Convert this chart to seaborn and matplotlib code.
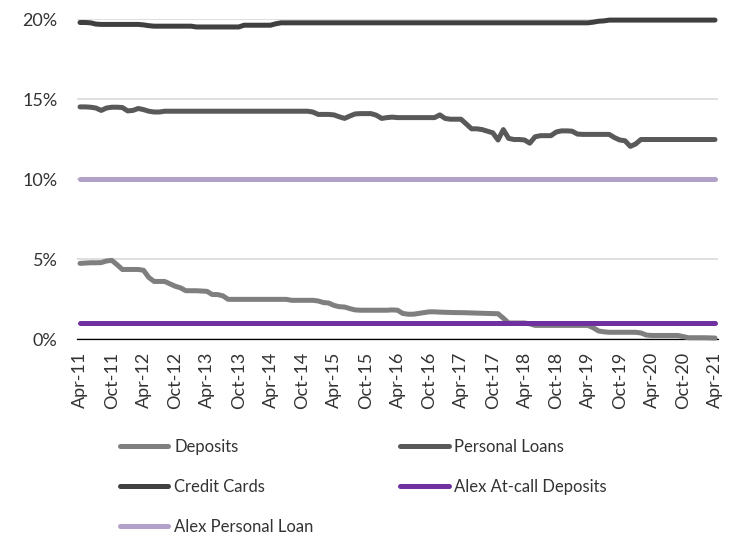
import matplotlib
matplotlib.use("Agg")
import matplotlib.pyplot as plt
import seaborn as sns
import pandas as pd
from matplotlib.ticker import FuncFormatter

# ---------------- data (monthly, Apr-11 .. Apr-21) ----------------
deposits = [
    4.73, 4.75, 4.77, 4.77, 4.78, 4.88, 4.92, 4.65, 4.35, 4.35, 4.35, 4.35,
    4.30, 3.85, 3.60, 3.60, 3.60, 3.45, 3.30, 3.20, 3.02, 3.02, 3.02, 3.00,
    2.98, 2.78, 2.78, 2.70, 2.48, 2.48, 2.48, 2.48, 2.48, 2.48, 2.48, 2.48,
    2.48, 2.48, 2.48, 2.48, 2.42, 2.42, 2.42, 2.42, 2.42, 2.38, 2.28, 2.25,
    2.10, 2.02, 2.00, 1.90, 1.82, 1.80, 1.80, 1.80, 1.80, 1.80, 1.80, 1.82,
    1.80, 1.60, 1.55, 1.55, 1.60, 1.65, 1.70, 1.70, 1.68, 1.67, 1.66, 1.65,
    1.65, 1.64, 1.63, 1.62, 1.61, 1.60, 1.59, 1.58, 1.30, 1.00, 1.00, 1.00,
    1.00, 0.95, 0.85, 0.85, 0.85, 0.85, 0.85, 0.85, 0.85, 0.85, 0.85, 0.85,
    0.85, 0.70, 0.50, 0.45, 0.42, 0.42, 0.42, 0.42, 0.42, 0.42, 0.38, 0.25,
    0.22, 0.22, 0.22, 0.22, 0.22, 0.22, 0.15, 0.08, 0.08, 0.08, 0.08, 0.07,
    0.06,
]
personal_loans = [
    14.52, 14.52, 14.50, 14.45, 14.30, 14.45, 14.50, 14.50, 14.48, 14.27, 14.30, 14.42,
    14.35, 14.25, 14.20, 14.20, 14.25, 14.25, 14.25, 14.25, 14.25, 14.25, 14.25, 14.25,
    14.25, 14.25, 14.25, 14.25, 14.25, 14.25, 14.25, 14.25, 14.25, 14.25, 14.25, 14.25,
    14.25, 14.25, 14.25, 14.25, 14.25, 14.25, 14.25, 14.25, 14.20, 14.05, 14.05, 14.05,
    14.02, 13.90, 13.80, 13.95, 14.08, 14.10, 14.10, 14.10, 14.00, 13.80, 13.85, 13.88,
    13.85, 13.85, 13.85, 13.85, 13.85, 13.85, 13.85, 13.85, 14.02, 13.80, 13.75, 13.75,
    13.75, 13.45, 13.15, 13.15, 13.10, 13.00, 12.90, 12.45, 13.10, 12.55, 12.48, 12.48,
    12.45, 12.25, 12.65, 12.72, 12.72, 12.72, 12.95, 13.02, 13.02, 13.00, 12.82, 12.80,
    12.80, 12.80, 12.80, 12.80, 12.80, 12.60, 12.45, 12.40, 12.05, 12.20, 12.48, 12.48,
    12.48, 12.48, 12.48, 12.48, 12.48, 12.48, 12.48, 12.48, 12.48, 12.48, 12.48, 12.48,
    12.48,
]
credit_cards = [
    19.80, 19.80, 19.78, 19.70, 19.68, 19.68, 19.68, 19.68, 19.68, 19.68, 19.68, 19.68,
    19.65, 19.60, 19.57, 19.57, 19.57, 19.57, 19.57, 19.57, 19.57, 19.57, 19.52, 19.52,
    19.52, 19.52, 19.52, 19.52, 19.52, 19.52, 19.52, 19.63, 19.63, 19.63, 19.63, 19.63,
    19.63, 19.72, 19.78, 19.78, 19.78, 19.78, 19.78, 19.78, 19.78, 19.78, 19.78, 19.78,
    19.78, 19.78, 19.78, 19.78, 19.78, 19.78, 19.78, 19.78, 19.78, 19.78, 19.78, 19.78,
    19.78, 19.78, 19.78, 19.78, 19.78, 19.78, 19.78, 19.78, 19.78, 19.78, 19.78, 19.78,
    19.78, 19.78, 19.78, 19.78, 19.78, 19.78, 19.78, 19.78, 19.78, 19.78, 19.78, 19.78,
    19.78, 19.78, 19.78, 19.78, 19.78, 19.78, 19.78, 19.78, 19.78, 19.78, 19.78, 19.78,
    19.78, 19.82, 19.88, 19.90, 19.95, 19.95, 19.95, 19.95, 19.95, 19.95, 19.95, 19.95,
    19.95, 19.95, 19.95, 19.95, 19.95, 19.95, 19.95, 19.95, 19.95, 19.95, 19.95, 19.95,
    19.95,
]
alex_at_call = [
    1.0, 1.0, 1.0, 1.0, 1.0, 1.0, 1.0, 1.0, 1.0, 1.0, 1.0, 1.0,
    1.0, 1.0, 1.0, 1.0, 1.0, 1.0, 1.0, 1.0, 1.0, 1.0, 1.0, 1.0,
    1.0, 1.0, 1.0, 1.0, 1.0, 1.0, 1.0, 1.0, 1.0, 1.0, 1.0, 1.0,
    1.0, 1.0, 1.0, 1.0, 1.0, 1.0, 1.0, 1.0, 1.0, 1.0, 1.0, 1.0,
    1.0, 1.0, 1.0, 1.0, 1.0, 1.0, 1.0, 1.0, 1.0, 1.0, 1.0, 1.0,
    1.0, 1.0, 1.0, 1.0, 1.0, 1.0, 1.0, 1.0, 1.0, 1.0, 1.0, 1.0,
    1.0, 1.0, 1.0, 1.0, 1.0, 1.0, 1.0, 1.0, 1.0, 1.0, 1.0, 1.0,
    1.0, 1.0, 1.0, 1.0, 1.0, 1.0, 1.0, 1.0, 1.0, 1.0, 1.0, 1.0,
    1.0, 1.0, 1.0, 1.0, 1.0, 1.0, 1.0, 1.0, 1.0, 1.0, 1.0, 1.0,
    1.0, 1.0, 1.0, 1.0, 1.0, 1.0, 1.0, 1.0, 1.0, 1.0, 1.0, 1.0,
    1.0,
]
alex_personal_loan = [
    10.0, 10.0, 10.0, 10.0, 10.0, 10.0, 10.0, 10.0, 10.0, 10.0, 10.0, 10.0,
    10.0, 10.0, 10.0, 10.0, 10.0, 10.0, 10.0, 10.0, 10.0, 10.0, 10.0, 10.0,
    10.0, 10.0, 10.0, 10.0, 10.0, 10.0, 10.0, 10.0, 10.0, 10.0, 10.0, 10.0,
    10.0, 10.0, 10.0, 10.0, 10.0, 10.0, 10.0, 10.0, 10.0, 10.0, 10.0, 10.0,
    10.0, 10.0, 10.0, 10.0, 10.0, 10.0, 10.0, 10.0, 10.0, 10.0, 10.0, 10.0,
    10.0, 10.0, 10.0, 10.0, 10.0, 10.0, 10.0, 10.0, 10.0, 10.0, 10.0, 10.0,
    10.0, 10.0, 10.0, 10.0, 10.0, 10.0, 10.0, 10.0, 10.0, 10.0, 10.0, 10.0,
    10.0, 10.0, 10.0, 10.0, 10.0, 10.0, 10.0, 10.0, 10.0, 10.0, 10.0, 10.0,
    10.0, 10.0, 10.0, 10.0, 10.0, 10.0, 10.0, 10.0, 10.0, 10.0, 10.0, 10.0,
    10.0, 10.0, 10.0, 10.0, 10.0, 10.0, 10.0, 10.0, 10.0, 10.0, 10.0, 10.0,
    10.0,
]
tick_labels = ["Apr-11", "Oct-11", "Apr-12", "Oct-12", "Apr-13", "Oct-13", "Apr-14",
               "Oct-14", "Apr-15", "Oct-15", "Apr-16", "Oct-16", "Apr-17", "Oct-17",
               "Apr-18", "Oct-18", "Apr-19", "Oct-19", "Apr-20", "Oct-20", "Apr-21"]
series_names = ["Deposits", "Personal Loans", "Credit Cards",
                "Alex At-call Deposits", "Alex Personal Loan"]
series_values = [deposits, personal_loans, credit_cards, alex_at_call, alex_personal_loan]
colors = ["#7F7F7F", "#595959", "#404040", "#7030A0", "#B1A0C7"]

# ---------------- build long table ----------------
rows = []
for name, vals in zip(series_names, series_values):
    for i, v in enumerate(vals):
        rows.append({"month": i, "rate": v, "series": name})
df = pd.DataFrame(rows)

sns.set_theme(style="white")
plt.rcParams["font.family"] = ["Lato", "DejaVu Sans"]
text_color = "#333333"

fig = plt.figure(figsize=(7.30, 5.37), dpi=100)
W, H = 730, 537
ax = fig.add_axes([77 / W, (H - 339) / H, (718 - 77) / W, (339 - 19.3) / H])

sns.lineplot(data=df, x="month", y="rate", hue="series", hue_order=series_names,
             palette=dict(zip(series_names, colors)), linewidth=3.6, ax=ax,
             legend=False, estimator=None)
for ln in ax.get_lines():
    ln.set_solid_capstyle("round")
    ln.set_solid_joinstyle("round")
    ln.set_clip_on(False)

ax.set_xlim(-0.57, 120.57)
ax.set_ylim(0, 20)
ax.set_yticks([0, 5, 10, 15, 20])
ax.yaxis.set_major_formatter(FuncFormatter(lambda v, p: f"{v:.0f}%"))
ax.set_xticks(list(range(0, 121, 6)))
ax.set_xticklabels(tick_labels, rotation=90, ha="center", va="top")
ax.set_xlabel("")
ax.set_ylabel("")
ax.yaxis.grid(True, color="#D9D9D9", linewidth=1.2)
ax.set_axisbelow(True)
for s in ["top", "right", "left"]:
    ax.spines[s].set_visible(False)
ax.spines["bottom"].set_color("#000000")
ax.spines["bottom"].set_linewidth(0.9)
ax.spines["bottom"].set_zorder(1.5)
ax.tick_params(axis="y", length=0, pad=14, labelsize=13, labelcolor=text_color)
ax.tick_params(axis="x", length=0, pad=9, labelsize=13, labelcolor=text_color)

lines = ax.get_lines()[:5]
order = [0, 2, 4, 1, 3]
leg = fig.legend([lines[i] for i in order], [series_names[i] for i in order],
                 loc="upper left", bbox_to_anchor=(120 / W, 1 - 439 / H),
                 ncol=2, frameon=False, fontsize=12, handlelength=2.9,
                 handletextpad=0.35, columnspacing=5.2, labelspacing=1.45,
                 borderpad=0, borderaxespad=0)
for t in leg.get_texts():
    t.set_color(text_color)
for h in leg.legend_handles:
    h.set_solid_capstyle("round")

fig.savefig("out.png", dpi=100)
